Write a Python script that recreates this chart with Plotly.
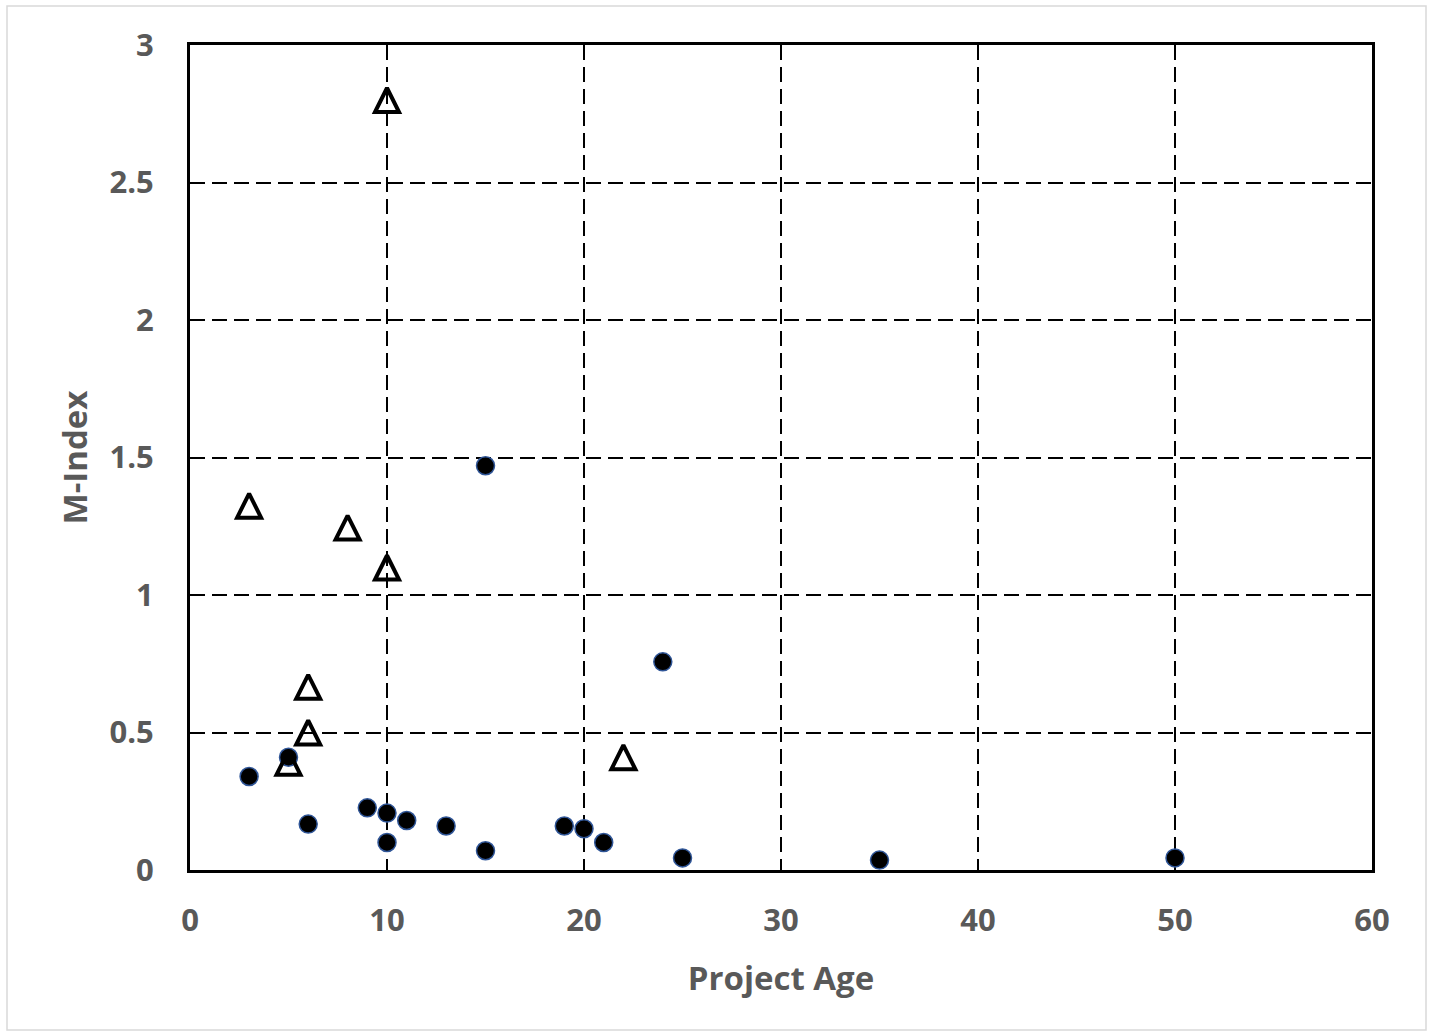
import plotly.graph_objects as go

# Circle series (filled)
circle_x = [3, 5, 6, 9, 10, 10, 11, 13, 15, 15, 19, 20, 21, 24, 25, 35, 50]
circle_y = [0.34, 0.41, 0.167, 0.226, 0.207, 0.10, 0.18, 0.16, 0.07, 1.47, 0.16, 0.15, 0.10, 0.757, 0.044, 0.036, 0.044]

# Triangle series (open)
tri_x = [10, 3, 8, 10, 6, 6, 5, 22]
tri_y = [2.80, 1.325, 1.245, 1.10, 0.666, 0.50, 0.39, 0.41]

x_ticks = [0, 10, 20, 30, 40, 50, 60]
y_ticks = [0, 0.5, 1, 1.5, 2, 2.5, 3]
y_tick_labels = ["0", "0.5", "1", "1.5", "2", "2.5", "3"]

W, H = 1429, 1034
L, R, T, B = 190, 57, 45, 164
pw = W - L - R
ph = H - T - B

Y_MIN, Y_MAX = 0, 3
TRI_SIZE = 24  # arrow-up marker: tip at point, so centre it with a shifted overlay axis
shift = (TRI_SIZE / 2) * (Y_MAX - Y_MIN) / ph

fig = go.Figure()
fig.add_trace(go.Scatter(
    x=circle_x, y=circle_y, mode="markers",
    marker=dict(symbol="circle", size=18, color="black",
                line=dict(color="#2F5597", width=1.5)),
    showlegend=False, cliponaxis=False))
fig.add_trace(go.Scatter(
    x=tri_x, y=tri_y, mode="markers", yaxis="y2",
    marker=dict(symbol="arrow-up-open", size=TRI_SIZE, color="black",
                line=dict(color="black", width=4)),
    showlegend=False, cliponaxis=False))

font_tick = dict(family="Open Sans, sans-serif", size=31, color="#595959", weight="bold")
font_title = dict(family="Open Sans, sans-serif", size=33, color="#595959", weight="bold")

fig.update_layout(
    xaxis=dict(
        range=[0, 60], tickvals=x_ticks, ticktext=[str(v) for v in x_ticks],
        showgrid=True, gridcolor="black", griddash="15px,7px", gridwidth=2,
        zeroline=False, showline=True, linecolor="black", linewidth=3, mirror=True,
        ticks="outside", ticklen=21, tickcolor="rgba(0,0,0,0)",
        tickfont=font_tick,
        title=dict(text="Project Age", font=font_title, standoff=28)),
    yaxis=dict(
        range=[Y_MIN, Y_MAX], tickvals=y_ticks, ticktext=y_tick_labels,
        showgrid=True, gridcolor="black", griddash="15px,7px", gridwidth=2,
        zeroline=False, showline=True, linecolor="black", linewidth=3, mirror=True,
        ticks="outside", ticklen=27, tickcolor="rgba(0,0,0,0)",
        tickfont=font_tick,
        title=dict(text="M-Index", font=font_title, standoff=12)),
    yaxis2=dict(overlaying="y", range=[Y_MIN - shift, Y_MAX - shift],
                visible=False, showgrid=False, zeroline=False),
)

fig.add_shape(type="rect", xref="paper", yref="paper",
              x0=(7 - L) / pw, x1=(1426 - L) / pw,
              y0=(H - B - 1030) / ph, y1=(H - B - 6) / ph,
              line=dict(color="#D9D9D9", width=1.5), layer="below")

fig.update_layout(
    width=W, height=H,
    margin=dict(l=L, r=R, t=T, b=B),
    paper_bgcolor="white", plot_bgcolor="white")

fig.write_html("out.html", config={"displayModeBar": False},
               post_script="document.body.style.margin='0';")
